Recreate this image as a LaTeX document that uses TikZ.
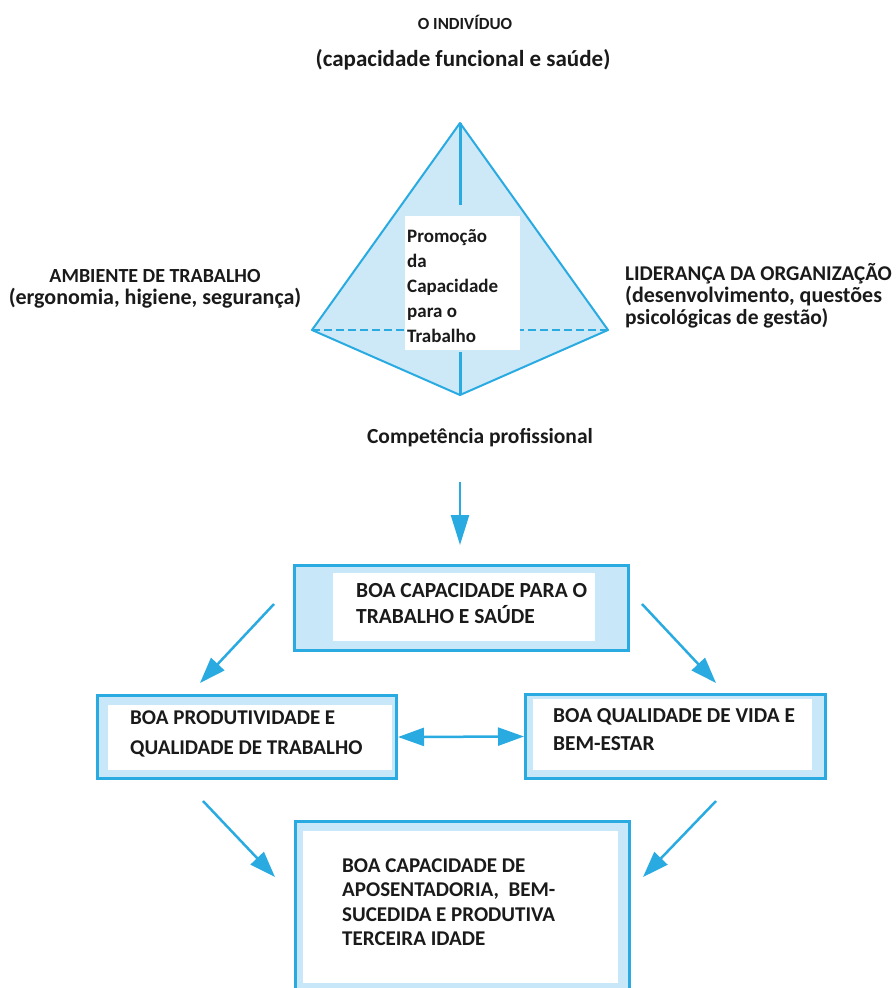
\documentclass[tikz,border=0pt]{standalone}
\usepackage{fontspec}
\setmainfont{Carlito}
\usetikzlibrary{arrows.meta}
\definecolor{bblue}{HTML}{29ABE2}
\definecolor{lblue}{HTML}{C8E7F8}
\definecolor{pfill}{HTML}{CDE9F8}
\definecolor{ink}{HTML}{1A1A1A}
\newcommand{\fs}[2]{\fontsize{#1}{#2}\selectfont}
\begin{document}
\begin{tikzpicture}[x=1pt,y=-1pt,
  outerbox/.style={draw=bblue, line width=3pt, fill=lblue, inner sep=0pt, anchor=north west},
  innerbox/.style={fill=white, inner sep=0pt, anchor=north west},
  lbl/.style={text=ink, inner sep=0pt, font=\bfseries\fs{17}{22}},
  arr/.style={draw=bblue, line width=2.5pt, -{Triangle[length=26pt,width=18pt]}},
  darr/.style={draw=bblue, line width=2.5pt, {Triangle[length=26pt,width=18pt]}-{Triangle[length=26pt,width=18pt]}},
  edge/.style={draw=bblue, line width=2pt, line join=round}
]
\useasboundingbox (0,0) rectangle (896,988);
\fill[white] (0,0) rectangle (896,988);

% titles
\node[lbl] (t1) at (465,22) {O INDIVÍDUO};
\node[lbl, font=\bfseries\fs{23}{27}] (t2) at (463,60) {(capacidade funcional e saúde)};

% pyramid
\coordinate (apex) at (460,123);
\coordinate (pl) at (312,330);
\coordinate (pr) at (608,330);
\coordinate (pb) at (460,395);
\fill[pfill] (apex) -- (pr) -- (pb) -- (pl) -- cycle;
\draw[edge] (apex) -- (pr) -- (pb) -- (pl) -- cycle;
\draw[draw=bblue, line width=2pt, dash pattern=on 8pt off 4pt] (pl) -- (pr);
\coordinate (vtop) at (460,205);
\coordinate (vbot) at (460,352);
\draw[draw=bblue, line width=3pt] (apex) -- (vtop);
\draw[draw=bblue, line width=3pt] (vbot) -- (pb);
\node[innerbox, minimum width=115pt, minimum height=134pt] (pbox) at (405,216) {};
\node[lbl, font=\bfseries\fs{19}{25}, anchor=west, align=left] (ptxt) at (407,286)
  {Promoção\\da\\Capacidade\\para o\\Trabalho};

% side labels
\node[lbl, align=center] (amb) at (155,289) {{\fs{20}{22}AMBIENTE DE TRABALHO}\\{\fs{22}{22}(ergonomia, higiene, segurança)}};
\node[lbl, align=left, anchor=west] (lid) at (625,296) {{\fs{21}{23}LIDERANÇA DA ORGANIZAÇÃO}\\{\fs{22}{23}(desenvolvimento, questões}\\{\fs{21.5}{22}psicológicas de gestão)}};

% competencia
\node[lbl, font=\bfseries\fs{21.5}{24}] (comp) at (480,438) {Competência profissional};

% top box
\node[outerbox, minimum width=334pt, minimum height=85pt] (topb) at (293,564) {};
\node[innerbox, minimum width=262pt, minimum height=68pt] (topw) at (333,573) {};
\node[lbl, anchor=west, align=left, font=\bfseries\fs{21.5}{26}] (topt) at (356,604) {BOA CAPACIDADE PARA O\\TRABALHO E SAÚDE};

% left middle box
\node[outerbox, minimum width=299pt, minimum height=83pt] (lb) at (96,694) {};
\node[innerbox, minimum width=284pt, minimum height=65pt] (lw) at (108,705) {};
\node[lbl, anchor=west, align=left, font=\bfseries\fs{21}{30}] (lt) at (130,734) {BOA PRODUTIVIDADE E\\QUALIDADE DE TRABALHO};

% right middle box
\node[outerbox, minimum width=300pt, minimum height=84pt] (rb) at (524,693) {};
\node[innerbox, minimum width=279pt, minimum height=71pt] (rw) at (533,699) {};
\node[lbl, anchor=west, align=left, font=\bfseries\fs{21.3}{28}] (rt) at (553,730) {BOA QUALIDADE DE VIDA E\\BEM-ESTAR};

% bottom box
\node[outerbox, minimum width=334pt, minimum height=180pt] (bb) at (294,820) {};
\node[innerbox, minimum width=315pt, minimum height=152pt] (bw) at (303,831) {};
\node[lbl, anchor=west, align=left, font=\bfseries\fs{21}{24.5}] (bt) at (342,902) {BOA CAPACIDADE DE\\APOSENTADORIA,\ \ BEM-\\SUCEDIDA E PRODUTIVA\\TERCEIRA IDADE};

% arrows
\coordinate (d1) at (460,482);
\coordinate (d2) at (460,545);
\draw[arr, -{Triangle[length=30pt,width=18pt]}] (d1) -- (d2);
\coordinate (tl1) at (274,604);
\coordinate (tl2) at (200,683);
\draw[arr] (tl1) -- (tl2);
\coordinate (tr1) at (642,604);
\coordinate (tr2) at (716,683);
\draw[arr] (tr1) -- (tr2);
\draw[darr] (lb.east) -- (rb.west);
\coordinate (bl1) at (203,801);
\coordinate (bl2) at (275,877);
\draw[arr] (bl1) -- (bl2);
\coordinate (br1) at (716,801);
\coordinate (br2) at (643,877);
\draw[arr] (br1) -- (br2);
\end{tikzpicture}
\end{document}
